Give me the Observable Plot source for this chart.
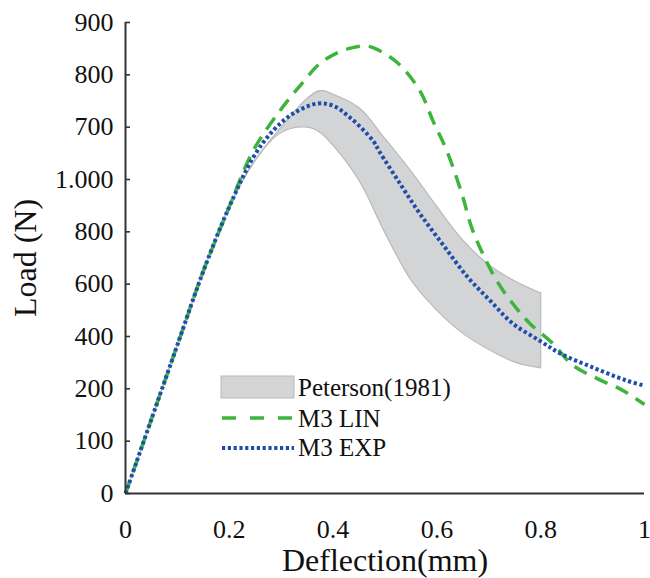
<!DOCTYPE html>
<html><head><meta charset="utf-8">
<script src="https://cdn.jsdelivr.net/npm/d3@7"></script>
<script src="https://cdn.jsdelivr.net/npm/@observablehq/plot@0.6"></script>
<style>
body{margin:0;background:#fff;}
#chart{position:relative;width:650px;height:578px;}
</style>
</head><body><div id="chart"></div>
<script>
// Peterson (1981) experimental band
const bandX    = [0, 0.05, 0.1, 0.15, 0.2, 0.25, 0.3, 0.35, 0.375, 0.4, 0.45, 0.5, 0.55, 0.6, 0.65, 0.7, 0.75, 0.8];
const bandHigh = [0, 142, 284, 425, 548, 637, 700, 755, 770, 763, 737, 678, 616, 548, 484, 437, 406, 383];
const bandLow  = [0, 142, 284, 425, 548, 637, 690, 700, 690, 665, 598, 498, 408, 350, 306, 275, 251, 240];
// M3 LIN
const linX = [0, 0.05, 0.1, 0.15, 0.2, 0.246, 0.298, 0.337, 0.375, 0.41, 0.438, 0.46, 0.477, 0.523, 0.567, 0.592, 0.619, 0.648, 0.667, 0.688, 0.715, 0.746, 0.779, 0.823, 0.862, 0.908, 0.958, 1.0];
const linY = [0, 142, 284, 425, 548, 655, 732, 780, 822, 843, 852, 855, 852, 824, 770, 713, 655, 573, 508, 459, 407, 363, 325, 287, 245, 220, 197, 170];
// M3 EXP
const expX = [0, 0.05, 0.1, 0.15, 0.2, 0.246, 0.285, 0.323, 0.369, 0.4, 0.433, 0.477, 0.49, 0.529, 0.567, 0.612, 0.658, 0.702, 0.746, 0.798, 0.837, 0.9, 0.965, 1.0];
const expY = [0, 142, 284, 425, 548, 642, 694, 726, 745, 741, 718, 674, 652, 592, 535, 475, 415, 369, 325, 292, 268, 241, 216, 206];
// axis ticks
const xTicks = [0, 0.2, 0.4, 0.6, 0.8, 1];
const xTickLabels = ["0", "0.2", "0.4", "0.6", "0.8", "1"];
const yTicks = [0, 100, 200, 300, 400, 500, 600, 700, 800, 900];
const yTickLabels = ["0", "100", "200", "400", "600", "800", "1.000", "700", "800", "900"];
const seriesNames = ["Peterson(1981)", "M3 LIN", "M3 EXP"];
const colors = {band: "#d3d4d6", bandStroke: "#b9b9b9", lin: "#3db53d", exp: "#1f4eaa"};
const serif = "Liberation Serif";

const band = bandX.map((x, i) => ({x, lo: bandLow[i], hi: bandHigh[i]}));
const lin = linX.map((x, i) => ({x, y: linY[i]}));
const exp = expX.map((x, i) => ({x, y: expY[i]}));

const chart = Plot.plot({
  width: 650, height: 578,
  marginLeft: 125, marginRight: 6, marginTop: 22, marginBottom: 85,
  style: {fontFamily: serif, fontSize: "26px", color: "#111", background: "#fff"},
  x: {domain: [0, 1]},
  y: {domain: [0, 900]},
  marks: [
    Plot.areaY(band, {x: "x", y1: "lo", y2: "hi", fill: colors.band, curve: "catmull-rom"}),
    Plot.lineY(band, {x: "x", y: "hi", stroke: colors.bandStroke, strokeWidth: 1.2, curve: "catmull-rom"}),
    Plot.lineY(band, {x: "x", y: "lo", stroke: colors.bandStroke, strokeWidth: 1.2, curve: "catmull-rom"}),
    Plot.ruleX(band.slice(-1), {x: "x", y1: "lo", y2: "hi", stroke: colors.bandStroke, strokeWidth: 1.2}),
    Plot.line(lin, {x: "x", y: "y", stroke: colors.lin, strokeWidth: 3.5, strokeDasharray: "14 9", strokeLinecap: "butt", curve: "catmull-rom"}),
    Plot.line(exp, {x: "x", y: "y", stroke: colors.exp, strokeWidth: 4, strokeDasharray: "3.2 2.6", strokeLinecap: "butt", curve: "catmull-rom"}),
    Plot.axisX({ticks: xTicks, tickFormat: (d, i) => xTickLabels[i], tickSize: 0, tickPadding: 26, fontFamily: serif, fontVariant: "normal",
      label: "Deflection(mm)", labelAnchor: "center", labelArrow: "none", labelOffset: 77, fontSize: 26}),
    Plot.axisY({ticks: yTicks, tickFormat: (d, i) => yTickLabels[i], tickSize: -5, tickPadding: 17, stroke: "#333", strokeWidth: 1.6, fontFamily: serif, fontVariant: "normal",
      label: "Load (N)", labelAnchor: "center", labelArrow: "none", labelOffset: 112, fontSize: 26}),
    Plot.ruleX([0], {stroke: "#333", strokeWidth: 2}),
    Plot.ruleY([0], {stroke: "#333", strokeWidth: 2})
  ]
});
const svg = d3.select(chart);
svg.selectAll("text").style("font-family", serif).style("font-variant", "normal").style("font-variant-numeric", "normal");
svg.selectAll("[aria-label='x-axis label'] text, [aria-label='y-axis label'] text").style("font-size", "32px");
document.getElementById("chart").appendChild(chart);

// legend inside the plot area
const lg = svg.append("g").style("font-family", serif).style("font-size", "25px").attr("fill", "#111").attr("text-anchor", "start");
lg.append("rect").attr("x", 221).attr("y", 376).attr("width", 73).attr("height", 22).attr("fill", colors.band).attr("stroke", colors.bandStroke);
lg.append("line").attr("x1", 222).attr("x2", 294).attr("y1", 418).attr("y2", 418).attr("stroke", colors.lin).attr("stroke-width", 3.5).attr("stroke-dasharray", "14 14");
lg.append("line").attr("x1", 222).attr("x2", 294).attr("y1", 448).attr("y2", 448).attr("stroke", colors.exp).attr("stroke-width", 4).attr("stroke-dasharray", "3.2 2.6");
[396, 427, 456].forEach((yy, i) => lg.append("text").attr("x", 298).attr("y", yy).attr("text-anchor", "start").text(seriesNames[i]));
</script>
</body></html>
